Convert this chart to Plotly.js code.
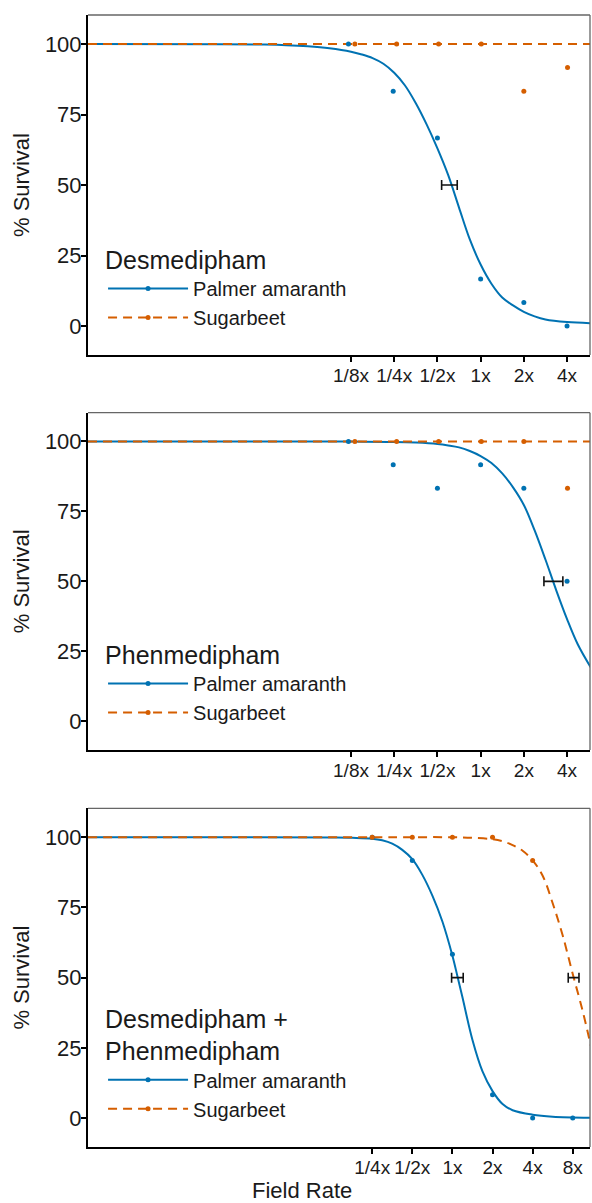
<!DOCTYPE html>
<html>
<head>
<meta charset="utf-8">
<script src="https://cdn.plot.ly/plotly-3.0.1.min.js"></script>
<style>
  html, body { margin: 0; padding: 0; background: #fff; }
  #chart { width: 592px; height: 1203px; }
</style>
</head>
<body>
<div id="chart"></div>
<script>
// ---------- Data (field rate as multiple of the label rate) ----------
const panelNames = ['Desmedipham', 'Phenmedipham', 'Desmedipham +<br>Phenmedipham'];
const seriesNames = ['Palmer amaranth', 'Sugarbeet'];

const ticksA = [0.125, 0.25, 0.5, 1, 2, 4];
const tickLabelsA = ['1/8x', '1/4x', '1/2x', '1x', '2x', '4x'];
const ticksB = [0.25, 0.5, 1, 2, 4, 8];
const tickLabelsB = ['1/4x', '1/2x', '1x', '2x', '4x', '8x'];
const yTicks = [0, 25, 50, 75, 100];

// Panel 1: Desmedipham
const p1PalmerX = [0.12, 0.246, 0.5, 1, 2, 4];
const p1PalmerY = [100, 83.3, 66.7, 16.7, 8.3, 0];
const p1BeetX = [0.133, 0.26, 0.51, 1.01, 2, 4.03];
const p1BeetY = [100, 100, 100, 100, 83.3, 91.7];
const p1PalmerFitX = [0.00184, 0.015625, 0.03125, 0.0442, 0.0625, 0.0884, 0.125, 0.1487, 0.1768, 0.2102, 0.25, 0.2973, 0.3536, 0.4204, 0.5, 0.5946, 0.7071, 0.8409, 1, 1.1892, 1.4142, 1.6818, 2, 2.3784, 2.8284, 4, 5.856];
const p1PalmerFitY = [100, 99.95, 99.8, 99.6, 99.2, 98.5, 97.3, 96.3, 95.0, 93.0, 89.8, 85.3, 79.0, 71.5, 63.0, 53.5, 42.0, 30.7, 21.8, 15.0, 10.1, 7.3, 5.0, 3.4, 2.3, 1.4, 1.0];
const p1BeetFitX = [0.00184, 5.856];
const p1BeetFitY = [100, 100];
const p1Ed50 = [0.606], p1Ed50Lo = [0.535], p1Ed50Hi = [0.687];

// Panel 2: Phenmedipham
const p2PalmerX = [0.12, 0.246, 0.5, 1, 2, 4];
const p2PalmerY = [100, 91.7, 83.3, 91.7, 83.3, 50];
const p2BeetX = [0.133, 0.26, 0.51, 1.01, 2, 4.03];
const p2BeetY = [100, 100, 100, 100, 100, 83.3];
const p2PalmerFitX = [0.00184, 0.0625, 0.125, 0.25, 0.3536, 0.5, 0.5946, 0.7071, 0.8409, 1, 1.1892, 1.4142, 1.6818, 2, 2.3784, 2.8284, 3.3636, 4, 4.7568, 5.856];
const p2PalmerFitY = [100, 100, 99.95, 99.85, 99.6, 99.1, 98.6, 97.9, 96.6, 94.8, 92.3, 88.6, 83.6, 77.3, 68.2, 57.8, 46.8, 36.5, 27.4, 19.2];
const p2BeetFitX = [0.00184, 5.856];
const p2BeetFitY = [100, 100];
const p2Ed50 = [3.22], p2Ed50Lo = [2.76], p2Ed50Hi = [3.74];

// Panel 3: Desmedipham + Phenmedipham
const p3PalmerX = [0.25, 0.5, 1, 2, 4, 8];
const p3PalmerY = [100, 91.7, 58.3, 8.3, 0, 0];
const p3BeetX = [0.25, 0.5, 1, 2, 4];
const p3BeetY = [100, 100, 100, 100, 91.7];
const p3PalmerFitX = [0.00184, 0.03125, 0.125, 0.1768, 0.25, 0.2973, 0.3536, 0.4204, 0.5, 0.5946, 0.7071, 0.8409, 1, 1.0905, 1.1892, 1.4142, 1.6818, 2, 2.3784, 2.8284, 4, 5.657, 10.93];
const p3PalmerFitY = [100, 100, 99.9, 99.8, 99.5, 98.9, 97.7, 95.5, 92.2, 86.6, 79.2, 70.0, 57.8, 50.5, 43.0, 27.8, 16.6, 9.6, 5.0, 2.8, 1.2, 0.5, 0.15];
const p3BeetFitX = [0.00184, 0.25, 1, 1.4142, 2, 2.3784, 2.8284, 3.3636, 4, 4.7568, 5.657, 6.727, 8, 9.514, 10.93];
const p3BeetFitY = [100, 100, 100, 99.8, 99.3, 98.6, 97.2, 95.2, 91.8, 86.3, 76.5, 65.0, 51.3, 38.0, 25.8];
const p3Ed50 = [1.09, 8.12], p3Ed50Lo = [0.986, 7.40], p3Ed50Hi = [1.205, 8.91];
const ed50Y = [50];

// ---------- Styles ----------
const BLUE = '#0072B2';
const ORANGE = '#D55E00';
const FONT = 'Liberation Sans, Arial, Helvetica, sans-serif';
const TXT = '#1a1a1a';

function fitTrace(x, y, color, dash, xa, ya) {
  return { x: x, y: y, xaxis: xa, yaxis: ya, type: 'scatter', mode: 'lines',
    line: { color: color, width: 2, dash: dash, shape: 'spline', smoothing: 1 },
    showlegend: false, hoverinfo: 'skip' };
}
function pointTrace(x, y, color, xa, ya) {
  return { x: x, y: y, xaxis: xa, yaxis: ya, type: 'scatter', mode: 'markers',
    marker: { color: color, size: 5 }, showlegend: false };
}
function errTrace(c, lo, hi, xa, ya) {
  return { x: c, y: c.map(() => ed50Y[0]), xaxis: xa, yaxis: ya, type: 'scatter', mode: 'markers',
    marker: { size: 1, color: 'rgba(0,0,0,0)' },
    error_x: { type: 'data', symmetric: false,
      array: c.map((v, i) => hi[i] - v), arrayminus: c.map((v, i) => v - lo[i]),
      color: '#111', thickness: 1.6, width: 5 },
    showlegend: false };
}
function legendTrace(name, color, dash, xa, ya, leg) {
  return { x: [null], y: [null], xaxis: xa, yaxis: ya, type: 'scatter', mode: 'lines+markers',
    name: name, legend: leg,
    line: { color: color, width: 2, dash: dash }, marker: { color: color, size: 5 } };
}

const DASH = '9px,6px';
const data = [
  // panel 1
  fitTrace(p1PalmerFitX, p1PalmerFitY, BLUE, 'solid', 'x', 'y'),
  fitTrace(p1BeetFitX, p1BeetFitY, ORANGE, DASH, 'x', 'y'),
  pointTrace(p1PalmerX, p1PalmerY, BLUE, 'x', 'y'),
  pointTrace(p1BeetX, p1BeetY, ORANGE, 'x', 'y'),
  errTrace(p1Ed50, p1Ed50Lo, p1Ed50Hi, 'x', 'y'),
  legendTrace(seriesNames[0], BLUE, 'solid', 'x', 'y', 'legend'),
  legendTrace(seriesNames[1], ORANGE, DASH, 'x', 'y', 'legend'),
  // panel 2
  fitTrace(p2PalmerFitX, p2PalmerFitY, BLUE, 'solid', 'x2', 'y2'),
  fitTrace(p2BeetFitX, p2BeetFitY, ORANGE, DASH, 'x2', 'y2'),
  pointTrace(p2PalmerX, p2PalmerY, BLUE, 'x2', 'y2'),
  pointTrace(p2BeetX, p2BeetY, ORANGE, 'x2', 'y2'),
  errTrace(p2Ed50, p2Ed50Lo, p2Ed50Hi, 'x2', 'y2'),
  legendTrace(seriesNames[0], BLUE, 'solid', 'x2', 'y2', 'legend2'),
  legendTrace(seriesNames[1], ORANGE, DASH, 'x2', 'y2', 'legend2'),
  // panel 3
  fitTrace(p3PalmerFitX, p3PalmerFitY, BLUE, 'solid', 'x3', 'y3'),
  fitTrace(p3BeetFitX, p3BeetFitY, ORANGE, DASH, 'x3', 'y3'),
  pointTrace(p3PalmerX, p3PalmerY, BLUE, 'x3', 'y3'),
  pointTrace(p3BeetX, p3BeetY, ORANGE, 'x3', 'y3'),
  errTrace(p3Ed50, p3Ed50Lo, p3Ed50Hi, 'x3', 'y3'),
  legendTrace(seriesNames[0], BLUE, 'solid', 'x3', 'y3', 'legend3'),
  legendTrace(seriesNames[1], ORANGE, DASH, 'x3', 'y3', 'legend3')
];

const doms = [[0.6996, 1.0], [0.3507, 0.6487], [0.0, 0.2992]];
const xRangeA = [Math.log10(0.00184), Math.log10(5.78)];
const xRangeB = [Math.log10(0.00184), Math.log10(10.78)];

function xAxis(anchor, tv, tt, rng) {
  return { type: 'log', anchor: anchor, range: rng, tickvals: tv, ticktext: tt,
    showline: true, linecolor: '#000', linewidth: 2, ticks: 'outside', ticklen: 5, tickwidth: 2,
    tickcolor: '#000', showgrid: false, zeroline: false, ticklabelstandoff: -3,
    tickfont: { family: FONT, size: 19, color: TXT } };
}
function yAxis(anchor, dom) {
  return { anchor: anchor, domain: dom, range: [-10.3, 110.3], tickvals: yTicks,
    showline: true, linecolor: '#000', linewidth: 2, ticks: 'outside', ticklen: 5, tickwidth: 2,
    tickcolor: '#000', showgrid: false, zeroline: false, ticklabelstandoff: -5,
    tickfont: { family: FONT, size: 22, color: TXT },
    title: { text: '% Survival', font: { family: FONT, size: 22, color: TXT }, standoff: 9 } };
}
function legendBox(title, yb) {
  return { title: { text: title, font: { family: FONT, size: 25, color: TXT } },
    x: 0.03, xanchor: 'left', y: yb, yanchor: 'bottom',
    bgcolor: 'rgba(0,0,0,0)', borderwidth: 0, itemwidth: 80,
    font: { family: FONT, size: 20, color: TXT }, tracegroupgap: 0 };
}
function borderShapes(xd, yd) {
  return [
    { type: 'line', xref: xd, yref: yd, x0: 0, x1: 1, y0: 1, y1: 1, line: { color: '#666', width: 1.3 } },
    { type: 'line', xref: xd, yref: yd, x0: 1, x1: 1, y0: 0, y1: 1, line: { color: '#666', width: 1.3 } }
  ];
}

const layout = {
  width: 592, height: 1203,
  margin: { l: 88, r: 2, t: 15, b: 56 },
  paper_bgcolor: '#fff', plot_bgcolor: '#fff',
  font: { family: FONT, color: TXT },
  xaxis: xAxis('y', ticksA, tickLabelsA, xRangeA),
  yaxis: yAxis('x', doms[0]),
  xaxis2: xAxis('y2', ticksA, tickLabelsA, xRangeA),
  yaxis2: yAxis('x2', doms[1]),
  xaxis3: xAxis('y3', ticksB, tickLabelsB, xRangeB),
  yaxis3: yAxis('x3', doms[2]),
  legend: legendBox(panelNames[0], doms[0][0] + 0.0155),
  legend2: legendBox(panelNames[1], doms[1][0] + 0.0155),
  legend3: legendBox(panelNames[2], doms[2][0] + 0.0165),
  shapes: [].concat(borderShapes('x domain', 'y domain'), borderShapes('x2 domain', 'y2 domain'), borderShapes('x3 domain', 'y3 domain')),
  annotations: [
    { text: 'Field Rate', xref: 'paper', yref: 'paper', x: 0.426, y: -0.038, xanchor: 'center', yanchor: 'middle',
      showarrow: false, font: { family: FONT, size: 22, color: TXT } }
  ]
};

Plotly.newPlot('chart', data, layout, { staticPlot: true, displayModeBar: false });
</script>
</body>
</html>
